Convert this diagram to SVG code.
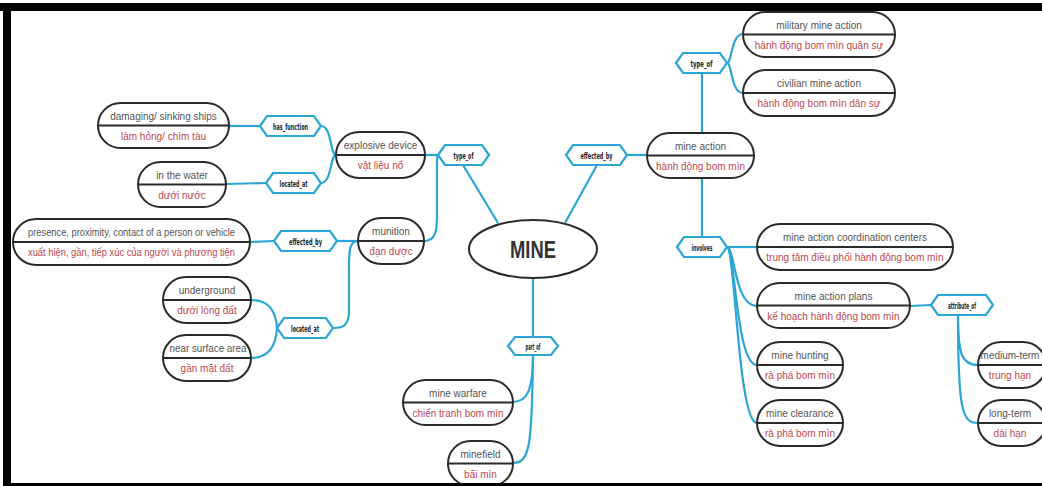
<svg xmlns="http://www.w3.org/2000/svg" width="1042" height="486" viewBox="0 0 1042 486">
<style>
.bg{fill:#ffffff}
.node rect{fill:#ffffff;stroke:#2b2b2b;stroke-width:2}
.node line{stroke:#2b2b2b;stroke-width:2}
.en{font-family:"Liberation Sans",Arial,sans-serif;font-size:10px;fill:#555555;text-anchor:middle}
.vi{font-family:"Liberation Sans",Arial,sans-serif;font-size:10px;fill:#c0474f;text-anchor:middle}
.hex polygon{fill:#ffffff;stroke:#2aa5d5;stroke-width:2.2;stroke-linejoin:miter}
.hl{font-family:"DejaVu Sans Condensed","Liberation Sans",sans-serif;font-size:9.5px;font-weight:bold;fill:#222222;text-anchor:middle}
#connectors path{fill:none;stroke:#2aa5d5;stroke-width:2.2}
.frame{fill:#000000}
</style>
<rect class="bg" x="0" y="0" width="1042" height="486"/>

<g id="connectors">
  <path d="M229,126 L260,126"/>
  <path d="M226,184 L266,183"/>
  <path d="M321,126 C332,126 330,155 336,155"/>
  <path d="M321,183 C332,183 330,155 336,155"/>
  <path d="M250,242 L274,241"/>
  <path d="M337,241 L358,241"/>
  <path d="M358,241 C349,241 349,252 349,270 L349,310 C349,326 343,328 333,328"/>
  <path d="M251,300 C270,300 276,312 277,328"/>
  <path d="M251,358 C270,358 276,344 277,328"/>
  <path d="M425,155 L438,155"/>
  <path d="M424,241 C436,241 437,230 437,215 L437,170 C437,160 437,155 438,155"/>
  <path d="M463,165 L498,223"/>
  <path d="M597,165 L565,223"/>
  <path d="M627,155 L647,155"/>
  <path d="M533,278 L533,337"/>
  <path d="M533,355 C533,390 527,402 513,402"/>
  <path d="M533,355 C532,445 530,463 513,463"/>
  <path d="M727,63 C732,63 731,34 743,34"/>
  <path d="M727,63 C732,63 731,93 743,93"/>
  <path d="M702,73 L702,133"/>
  <path d="M702,178 L702,237"/>
  <path d="M727,247 L757,247"/>
  <path d="M727,247 C735,247 734,306 757,306"/>
  <path d="M727,247 C735,247 736,365 757,365"/>
  <path d="M727,247 C735,247 738,423 757,423"/>
  <path d="M910,306 L931,305"/>
  <path d="M958,315 C958,355 962,365 978,365"/>
  <path d="M958,315 C958,410 962,423 978,423"/>
</g>

<g id="hex-has-function" class="hex"><polygon points="260,126 267,116 314,116 321,126 314,136 267,136"/><text class="hl" x="290.5" y="129.5" textLength="35" lengthAdjust="spacingAndGlyphs">has_function</text></g>
<g id="hex-located-at-1" class="hex"><polygon points="266,183 273,173 314,173 321,183 314,193 273,193"/><text class="hl" x="293.5" y="186.5" textLength="28" lengthAdjust="spacingAndGlyphs">located_at</text></g>
<g id="hex-effected-by-1" class="hex"><polygon points="274,241 281,231 330,231 337,241 330,251 281,251"/><text class="hl" x="305.5" y="244.5" textLength="33" lengthAdjust="spacingAndGlyphs">effected_by</text></g>
<g id="hex-located-at-2" class="hex"><polygon points="277,328 284,318 326,318 333,328 326,338 284,338"/><text class="hl" x="305" y="331.5" textLength="28" lengthAdjust="spacingAndGlyphs">located_at</text></g>
<g id="hex-type-of-1" class="hex"><polygon points="438,155 445,145 482,145 489,155 482,165 445,165"/><text class="hl" x="463.5" y="158.5" textLength="20" lengthAdjust="spacingAndGlyphs">type_of</text></g>
<g id="hex-effected-by-2" class="hex"><polygon points="566,155 573,145 620,145 627,155 620,165 573,165"/><text class="hl" x="596.5" y="158.5" textLength="32" lengthAdjust="spacingAndGlyphs">effected_by</text></g>
<g id="hex-part-of" class="hex"><polygon points="508,346 515,337 551,337 558,346 551,355 515,355"/><text class="hl" x="533" y="349.5" textLength="15" lengthAdjust="spacingAndGlyphs">part_of</text></g>
<g id="hex-type-of-2" class="hex"><polygon points="676,63 683,53 720,53 727,63 720,73 683,73"/><text class="hl" x="701.5" y="66.5" textLength="22" lengthAdjust="spacingAndGlyphs">type_of</text></g>
<g id="hex-involves" class="hex"><polygon points="677,247 684,237 720,237 727,247 720,257 684,257"/><text class="hl" x="702" y="250.5" textLength="21" lengthAdjust="spacingAndGlyphs">involves</text></g>
<g id="hex-attribute-of" class="hex"><polygon points="931,305 938,295 986,295 993,305 986,315 938,315"/><text class="hl" x="962" y="308.5" textLength="28" lengthAdjust="spacingAndGlyphs">attribute_of</text></g>

<g id="node-mine">
  <ellipse cx="533" cy="249" rx="64" ry="29" fill="#ffffff" stroke="#2b2b2b" stroke-width="2"/>
  <text x="533" y="258" font-family="Liberation Sans,Arial,sans-serif" font-size="24" font-weight="bold" fill="#333333" text-anchor="middle" textLength="46" lengthAdjust="spacingAndGlyphs">MINE</text>
</g>

<g id="node-damaging" class="node"><rect x="98" y="103" width="131" height="45" rx="22.5"/><line x1="98" y1="125.5" x2="229" y2="125.5"/><text class="en" x="163.5" y="120">damaging/ sinking ships</text><text class="vi" x="163.5" y="140">làm hỏng/ chìm tàu</text></g>
<g id="node-water" class="node"><rect x="138" y="162" width="88" height="45" rx="22.5"/><line x1="138" y1="184.5" x2="226" y2="184.5"/><text class="en" x="182" y="179">in the water</text><text class="vi" x="182" y="199">dưới nước</text></g>
<g id="node-presence" class="node"><rect x="13" y="219" width="237" height="46" rx="23"/><line x1="13" y1="242" x2="250" y2="242"/><text class="en" x="131.5" y="236" textLength="207" lengthAdjust="spacingAndGlyphs">presence, proximity, contact of a person or vehicle</text><text class="vi" x="131.5" y="256" textLength="207" lengthAdjust="spacingAndGlyphs">xuất hiện, gần, tiếp xúc của người và phương tiện</text></g>
<g id="node-underground" class="node"><rect x="163" y="277" width="88" height="46" rx="23"/><line x1="163" y1="300" x2="251" y2="300"/><text class="en" x="207" y="294">underground</text><text class="vi" x="207" y="314">dưới lòng đất</text></g>
<g id="node-surface" class="node"><rect x="163" y="335" width="88" height="46" rx="23"/><line x1="163" y1="358" x2="251" y2="358"/><text class="en" x="208" y="352" textLength="77" lengthAdjust="spacingAndGlyphs">near surface area</text><text class="vi" x="207" y="372">gần mặt đất</text></g>
<g id="node-explosive" class="node"><rect x="336" y="132" width="89" height="46" rx="23"/><line x1="336" y1="155" x2="425" y2="155"/><text class="en" x="380.5" y="149">explosive device</text><text class="vi" x="380.5" y="169">vật liệu nổ</text></g>
<g id="node-munition" class="node"><rect x="358" y="218" width="66" height="46" rx="23"/><line x1="358" y1="241" x2="424" y2="241"/><text class="en" x="391" y="235">munition</text><text class="vi" x="391" y="255">đạn dược</text></g>
<g id="node-warfare" class="node"><rect x="403" y="380" width="110" height="45" rx="22.5"/><line x1="403" y1="402.5" x2="513" y2="402.5"/><text class="en" x="458" y="397">mine warfare</text><text class="vi" x="458" y="417">chiến tranh bom mìn</text></g>
<g id="node-minefield" class="node"><rect x="448" y="441" width="65" height="45" rx="22.5"/><line x1="448" y1="463.5" x2="513" y2="463.5"/><text class="en" x="480.5" y="458">minefield</text><text class="vi" x="480.5" y="478">bãi mìn</text></g>
<g id="node-military" class="node"><rect x="743" y="12" width="152" height="45" rx="22.5"/><line x1="743" y1="34.5" x2="895" y2="34.5"/><text class="en" x="819" y="29">military mine action</text><text class="vi" x="819" y="49">hành động bom mìn quân sự</text></g>
<g id="node-civilian" class="node"><rect x="743" y="70" width="152" height="46" rx="23"/><line x1="743" y1="93" x2="895" y2="93"/><text class="en" x="819" y="87">civilian mine action</text><text class="vi" x="819" y="107">hành động bom mìn dân sự</text></g>
<g id="node-mine-action" class="node"><rect x="647" y="133" width="107" height="45" rx="22.5"/><line x1="647" y1="155.5" x2="754" y2="155.5"/><text class="en" x="700.5" y="150">mine action</text><text class="vi" x="700.5" y="170">hành động bom mìn</text></g>
<g id="node-centers" class="node"><rect x="757" y="224" width="196" height="46" rx="23"/><line x1="757" y1="247" x2="953" y2="247"/><text class="en" x="855" y="241">mine action coordination centers</text><text class="vi" x="855" y="261">trung tâm điều phối hành động bom mìn</text></g>
<g id="node-plans" class="node"><rect x="757" y="283" width="153" height="45" rx="22.5"/><line x1="757" y1="305.5" x2="910" y2="305.5"/><text class="en" x="833.5" y="300">mine action plans</text><text class="vi" x="833.5" y="320">kế hoạch hành động bom mìn</text></g>
<g id="node-hunting" class="node"><rect x="757" y="342" width="86" height="46" rx="23"/><line x1="757" y1="365" x2="843" y2="365"/><text class="en" x="800" y="359">mine hunting</text><text class="vi" x="800" y="379">rà phá bom mìn</text></g>
<g id="node-clearance" class="node"><rect x="757" y="400" width="86" height="46" rx="23"/><line x1="757" y1="423" x2="843" y2="423"/><text class="en" x="800" y="417">mine clearance</text><text class="vi" x="800" y="437">rà phá bom mìn</text></g>
<g id="node-medium" class="node"><rect x="978" y="342" width="68" height="46" rx="23"/><line x1="978" y1="365" x2="1046" y2="365"/><text class="en" x="1010" y="359">medium-term</text><text class="vi" x="1010" y="379">trung hạn</text></g>
<g id="node-long" class="node"><rect x="978" y="400" width="68" height="46" rx="23"/><line x1="978" y1="423" x2="1046" y2="423"/><text class="en" x="1010" y="417">long-term</text><text class="vi" x="1010" y="437">dài hạn</text></g>

<g id="frame">
  <rect class="frame" x="0" y="3" width="1042" height="8"/>
  <rect class="frame" x="3" y="3" width="8" height="483"/>
  <rect class="frame" x="3" y="483" width="1039" height="3"/>
</g>
</svg>
